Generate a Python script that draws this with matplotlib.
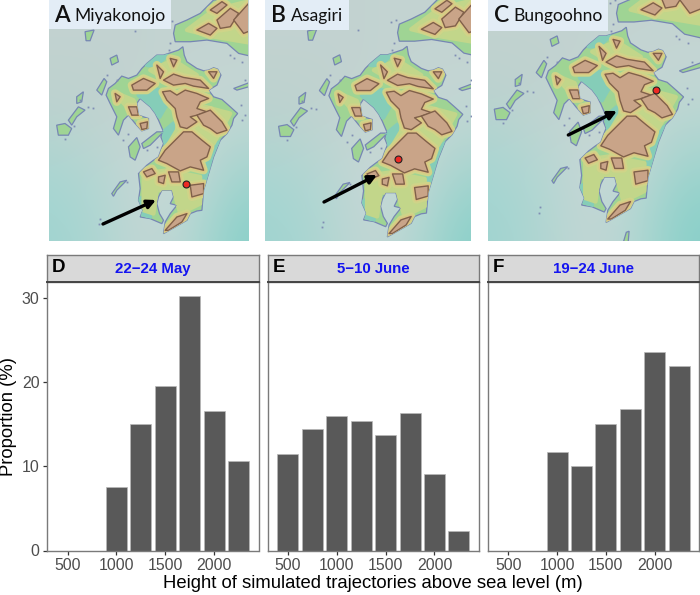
import numpy as np
import matplotlib
matplotlib.use("Agg")
import matplotlib.pyplot as plt
from matplotlib.colors import to_rgb
from matplotlib.patches import Polygon, PathPatch, Rectangle
from matplotlib.path import Path

plt.rcParams['font.family'] = ['Liberation Sans', 'DejaVu Sans']
W, H = 700, 595

# ---------- histogram data ----------
heights = [500, 750, 1000, 1250, 1500, 1750, 2000, 2250]
may_values = [0, 0, 7.5, 15.1, 19.6, 30.3, 16.6, 10.6]
june5_values = [11.5, 14.4, 16.0, 15.4, 13.8, 16.4, 9.1, 2.3]
june19_values = [0, 0, 11.7, 10.05, 15.1, 16.85, 23.6, 21.9]
strip_titles = ['22\u221224 May', '5\u221210 June', '19\u221224 June']
panel_letters = ['D', 'E', 'F']
x_ticks = [500, 1000, 1500, 2000]
y_ticks = [0, 10, 20, 30]

# ---------- map outlines (map coordinates) ----------
kyushu = [(490,165),(505,160),(520,155),(535,150),(548,140),(552,165),(560,185),(590,205),(610,212),
          (625,210),(640,203),(652,207),(662,225),(650,255),(625,270),(640,290),(665,298),(690,320),
          (712,340),(700,355),(695,375),(680,400),(660,420),(650,445),(640,470),(625,520),(610,570),
          (605,630),(590,632),(570,640),(560,660),(525,680),(490,700),(495,665),(510,640),(530,615),
          (510,610),(520,590),(515,570),(485,570),(475,590),(470,610),(478,640),(490,660),(485,670),
          (450,655),(420,650),(428,630),(415,600),(420,565),(415,520),(440,495),(460,480),(475,470),
          (482,450),(490,430),(482,410),(490,395),(475,360),(465,340),(450,320),(420,295),(410,310),
          (415,345),(445,355),(445,385),(425,392),(405,370),(385,345),(370,360),(355,405),(340,385),
          (350,350),(330,310),(318,285),(325,265),(345,250),(365,228),(385,235),(410,225),(425,205),
          (440,190),(470,165)]
islands = [
    [(385,440),(410,412),(420,440),(405,480),(390,470)],
    [(425,430),(470,395),(490,395),(450,435),(430,445)],
    [(170,375),(195,370),(215,385),(205,405),(175,405)],
    [(205,360),(235,320),(255,330),(230,350),(215,375)],
    [(230,290),(250,275),(245,305),(230,310)],
    [(330,175),(350,165),(355,185),(335,195)],
    [(255,95),(282,90),(270,122),(258,122)],
    [(335,580),(360,545),(380,540),(350,570),(340,588)],
    [(290,270),(312,235),(320,245),(305,285)],
    [(525,75),(560,60),(600,40),(640,0),(780,-10),(780,175),(715,160),(680,130),(620,120),(570,125),(525,125),(520,100)],
    [(700,265),(780,235),(780,250),(710,270)],
    [(540,755),(548,728),(556,725),(553,760)],
]
specks = [(300,655),(297,672),(404,92),(280,325),(265,322),(222,378),(240,300),(196,415),(510,130),
          (505,150),(700,175),(725,185),(690,165),(350,240),(320,225),(385,400),(370,420),(440,450),
          (470,440),(722,315),(735,345),(725,360),(380,545),(500,70),(515,62),(735,240)]
plains = [
    [(415,285),(470,268),(525,285),(495,320),(478,350),(450,318)],
    [(490,395),(520,370),(530,385),(495,430)],
    [(650,430),(670,420),(630,520),(612,560),(610,500)],
    [(420,640),(410,600),(430,590),(450,650)],
    [(440,195),(470,170),(500,165),(470,195)],
]
hills = [
    [(430,520),(500,510),(600,530),(600,610),(540,640),(520,570),(470,570),(460,640),(430,630)],
    [(450,210),(520,180),(590,225),(500,240)],
    [(560,90),(640,30),(760,0),(760,130),(640,110)],
    [(340,275),(400,300),(420,350),(380,320)],
    [(540,300),(690,340),(640,430),(600,470),(500,440),(530,390)],
]
mountains = [
    [(487,275),(510,272),(530,285),(555,270),(590,280),(625,295),(600,305),(590,325),(620,335),(590,345),
     (570,350),(590,365),(560,385),(540,380),(530,350),(525,325),(500,300)],
    [(590,345),(630,330),(665,365),(680,390),(650,400),(630,385),(610,375)],
    [(550,395),(575,395),(605,420),(630,440),(620,470),(600,480),(610,510),(570,500),(540,512),(500,490),
     (475,480),(495,450),(520,425),(535,410)],
    [(395,255),(430,235),(465,250),(440,270),(400,270)],
    [(490,240),(520,222),(550,232),(600,240),(625,265),(580,258),(555,250),(520,255)],
    [(470,195),(490,215),(480,235)],
    [(510,175),(530,180),(520,200)],
    [(625,215),(650,215),(640,235)],
    [(345,280),(360,290),(350,305)],
    [(385,320),(410,320),(415,345),(395,345)],
    [(420,370),(442,365),(440,385),(425,388)],
    [(505,515),(535,515),(540,545),(515,545)],
    [(430,515),(455,505),(465,520),(440,530)],
    [(475,530),(495,525),(490,550),(475,545)],
    [(570,555),(610,550),(610,580),(575,590)],
    [(495,690),(530,650),(560,640),(545,665),(505,690)],
    [(590,90),(625,70),(650,85),(630,105)],
    [(650,60),(690,25),(715,40),(690,80),(660,85)],
    [(700,60),(745,10),(780,10),(780,80),(730,100)],
    [(630,30),(665,5),(680,15),(650,40)],
]
sea_colors = [
    ['#c3d3d1', '#c3d3d1', '#c3d3d1', '#c3d3d1', '#c3d3d1'],
    ['#c0d2cf', '#c0d2cf', '#c3d3d1', '#c4d5d3', '#c5d6d4'],
    ['#b8d3cf', '#c0d4d1', '#c5d5d3', '#c6d6d3', '#bcd7d3'],
    ['#a8d6d2', '#b5d7d3', '#c8d8d6', '#c2d8d5', '#a0d4ce'],
    ['#a0d4d0', '#b0d6d2', '#c4d6d4', '#b4d8d3', '#8ad0c9'],
]

# ---------- per-map settings: panel pixels, visible map window, annotation ----------
map_names = ['Miyakonojo', 'Asagiri', 'Bungoohno']
map_letters = ['A', 'B', 'C']
map_boxes = [(49, 248), (265, 471), (488, 700)]
map_xlims = [(147, 743), (130, 736), (152, 759)]
map_ylims = [(722, 0), (712, 4), (753, 62)]
label_right = [171, 349, 608]
label_bottom = [29, 30, 31]
letter_x = [54, 271, 494]
name_x = [74.5, 291, 513]
dots = [(186, 184), (398.3, 159), (655.7, 89.7)]
arrow_tails = [(103, 224), (324, 202), (568.3, 135)]
arrow_heads = [(156, 200), (377, 175), (617, 111)]


def ax_px(x0, x1, y0, y1):
    return fig.add_axes([x0 / W, 1 - y1 / H, (x1 - x0) / W, (y1 - y0) / H])


fig = plt.figure(figsize=(W / 100, H / 100), dpi=100, facecolor='white')

# ---------- maps ----------
sea = np.array([[to_rgb(c) for c in row] for row in sea_colors])
for box, xl, yl in zip(map_boxes, map_xlims, map_ylims):
    ax = ax_px(box[0], box[1], 0, 241)
    ax.imshow(sea, extent=(100, 780, 780, -10), interpolation='bicubic', aspect='auto', zorder=0)
    shapes = [kyushu] + islands
    verts, codes = [], []
    for s in shapes:
        verts += list(s) + [s[0]]
        codes += [Path.MOVETO] + [Path.LINETO] * (len(s) - 1) + [Path.CLOSEPOLY]
    land = PathPatch(Path(verts, codes), fc='#9fd494', ec='#7686b4', lw=0.9, zorder=1)
    ax.add_patch(land)
    ax.plot(*zip(*specks), ls='none', marker='s', ms=1.3, color='#7f8db3', mew=0, zorder=1)

    def add(poly, z, **kw):
        p = Polygon(poly, closed=True, zorder=z, joinstyle='round', **kw)
        ax.add_patch(p)
        p.set_clip_path(land)

    for poly in plains:
        add(poly, 2, fc='#85cdb8', ec='#85cdb8', lw=3)
    for poly in hills:
        add(poly, 3, fc='#c2d68a', ec='#c2d68a', lw=3)
    for poly in mountains:
        add(poly, 4, fc='#cfd488', ec='#cfd488', lw=6)
    for poly in mountains:
        add(poly, 5, fc='#dcc583', ec='#dcc583', lw=3)
    for poly in mountains:
        add(poly, 6, fc='#c9a488', ec='#80604a', lw=1.0)
    ax.set_xlim(*xl)
    ax.set_ylim(*yl)
    ax.axis('off')

# ---------- overlay for map annotation, in figure pixels ----------
ov = fig.add_axes([0, 0, 1, 1], zorder=5)
ov.set_xlim(0, W)
ov.set_ylim(H, 0)
ov.axis('off')
for i in range(3):
    b = map_boxes[i]
    ov.add_patch(Rectangle((b[0], 0), label_right[i] - b[0], label_bottom[i],
                           fc='#e3edf6', ec='none'))
    ov.text(letter_x[i], 15, map_letters[i], fontsize=16.5, family=['Lato', 'DejaVu Sans'],
            fontweight='semibold', color='#111111', va='center', ha='left')
    ov.text(name_x[i], 15.5, map_names[i], fontsize=12.6, family=['Lato', 'DejaVu Sans'],
            color='#111111', va='center', ha='left')
    ov.plot(*dots[i], 'o', ms=5, mfc='#ee2a24', mec='#222222', mew=0.8)
    ov.annotate('', xy=arrow_heads[i], xytext=arrow_tails[i],
                arrowprops=dict(arrowstyle='-|>,head_width=0.25,head_length=0.5',
                                color='black', lw=2.4, shrinkA=0, shrinkB=0))

# ---------- histograms ----------
panel_x = [(47.5, 258.5), (267.7, 479), (488, 699.3)]
series = [may_values, june5_values, june19_values]
for i, (xr, vals) in enumerate(zip(panel_x, series)):
    ax = ax_px(xr[0], xr[1], 282, 550.5)
    ax.bar(heights, vals, width=215, color='#595959', edgecolor='#b8b8b8', linewidth=0.5, zorder=2)
    ax.set_xlim(293, 2456)
    ax.set_ylim(0, 31.95)
    ax.set_xticks(x_ticks)
    ax.set_yticks(y_ticks)
    ax.tick_params(axis='x', length=3.2, width=0.9, color='#333333', labelcolor='#4d4d4d',
                   labelsize=11.4, pad=2.5)
    if i == 0:
        ax.tick_params(axis='y', length=3.2, width=0.9, color='#333333', labelcolor='#4d4d4d',
                       labelsize=11.4, pad=2.5)
    else:
        ax.tick_params(axis='y', left=False, labelleft=False)
    for side, sp in ax.spines.items():
        sp.set_color('#7a7a7a')
        sp.set_linewidth(1.0)
    strip = ax_px(xr[0], xr[1], 254.5, 282)
    strip.set_facecolor('#d9d9d9')
    strip.set_xticks([])
    strip.set_yticks([])
    for side, sp in strip.spines.items():
        sp.set_color('#7a7a7a')
        sp.set_linewidth(1.0)
    strip.spines['bottom'].set_color('#444444')
    strip.spines['bottom'].set_linewidth(1.4)
    strip.text(0.5, 0.47, strip_titles[i], transform=strip.transAxes, color='#1414f0',
               fontweight='bold', fontsize=10.8, ha='center', va='center')
    strip.text(0.022, 0.54, panel_letters[i], transform=strip.transAxes, color='black',
               fontweight='bold', fontsize=13.5, ha='left', va='center')

ov.text(373, 584, 'Height of simulated trajectories above sea level (m)', fontsize=13.3,
        color='black', ha='center', va='center')
ov.text(8.5, 416, 'Proportion (%)', fontsize=13.3, color='black', rotation=90,
        ha='center', va='center')

fig.savefig('out.png', dpi=100)
